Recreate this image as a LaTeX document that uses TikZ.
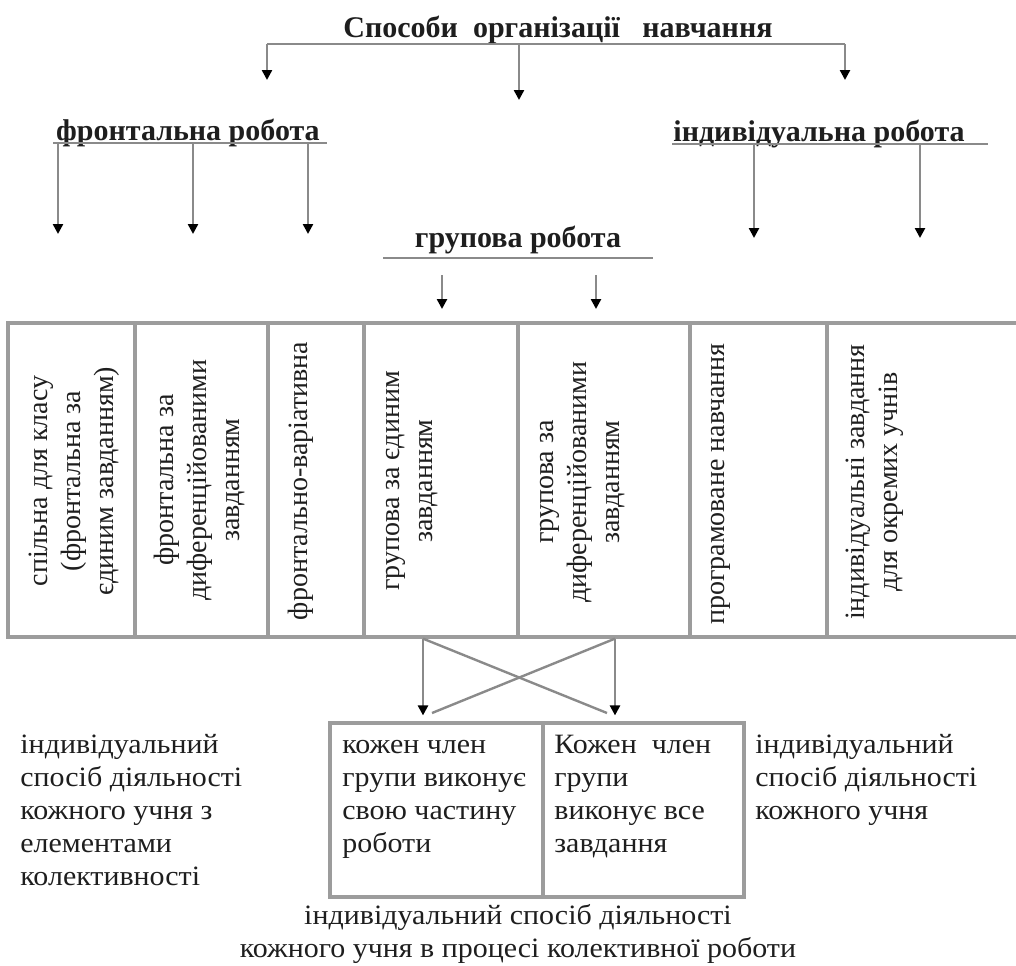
\documentclass[tikz,border=0pt]{standalone}
\usepackage{fontspec}
\setmainfont{Liberation Serif}
\newfontfamily\widefont[FakeStretch=1.07]{Liberation Serif}
\usetikzlibrary{arrows.meta}
\definecolor{linegray}{HTML}{8A8A8A}
\definecolor{tblgray}{HTML}{9C9C9C}
\definecolor{ink}{HTML}{1E1E1E}
\begin{document}
\begin{tikzpicture}[x=0.5pt,y=-0.5pt,
  ln/.style={draw=linegray, line width=1.2pt},
  arr/.style={ln, -{Triangle[length=5pt,width=5pt,color=black]}},
  cell/.style={draw=tblgray, line width=1.6pt, inner sep=0pt},
  hd/.style={font=\fontsize{15}{18}\selectfont\bfseries, inner sep=0pt, text=ink},
  ttl/.style={font=\fontsize{15}{18}\selectfont\bfseries, inner sep=0pt, text=ink},
  txt/.style={font=\widefont\fontsize{14}{16.5}\selectfont, inner sep=0pt, align=left, text=ink},
  vtxt/.style={font=\fontsize{14}{16.5}\selectfont, inner sep=0pt, align=center, rotate=90, text=ink},
]
\useasboundingbox (0,0) rectangle (1016,965);

% title and first level
\node[ttl, anchor=base] (t) at (558,37) {Способи\ \ організації\ \ \ навчання};
\coordinate (hub) at (489,44);
\coordinate (bl) at (267,44);
\coordinate (br) at (845,44);
\coordinate (bm) at (519,44);
\coordinate (el) at (267,80);
\coordinate (em) at (519,100);
\coordinate (er) at (845,80);
\draw[ln] (hub) -- (hub |- t.south);
\draw[ln] (bl) -- (br);
\draw[arr] (bl) -- (el);
\draw[arr] (bm) -- (em);
\draw[arr] (br) -- (er);

% headings
\node[hd, anchor=base] (f) at (188,140) {фронтальна робота};
\node[hd, anchor=base] (i) at (819,141) {індивідуальна робота};
\node[hd, anchor=base] (g) at (518,247) {групова робота};

\coordinate (fu1) at (53,143);  \coordinate (fu2) at (327,143);
\coordinate (iu1) at (672,144); \coordinate (iu2) at (988,144);
\coordinate (gu1) at (383,258); \coordinate (gu2) at (653,258);
\draw[ln] (fu1) -- (fu2);
\draw[ln] (iu1) -- (iu2);
\draw[ln] (gu1) -- (gu2);

\coordinate (fa1) at (58,143);  \coordinate (fe1) at (58,234);
\coordinate (fa2) at (193,143); \coordinate (fe2) at (193,234);
\coordinate (fa3) at (308,143); \coordinate (fe3) at (308,234);
\coordinate (ia1) at (754,144); \coordinate (ie1) at (754,238);
\coordinate (ia2) at (920,144); \coordinate (ie2) at (920,238);
\coordinate (ga1) at (442,275); \coordinate (ge1) at (442,309);
\coordinate (ga2) at (596,275); \coordinate (ge2) at (596,309);
\draw[arr] (fa1) -- (fe1);
\draw[arr] (fa2) -- (fe2);
\draw[arr] (fa3) -- (fe3);
\draw[arr] (ia1) -- (ie1);
\draw[arr] (ia2) -- (ie2);
\draw[arr] (ga1) -- (ge1);
\draw[arr] (ga2) -- (ge2);

% table cells
\node[cell, minimum width=63.5pt, minimum height=157pt] (c1) at (71.5,480) {};
\node[cell, minimum width=66.5pt, minimum height=157pt] (c2) at (201.5,480) {};
\node[cell, minimum width=48pt,   minimum height=157pt] (c3) at (316,480) {};
\node[cell, minimum width=77pt,   minimum height=157pt] (c4) at (441,480) {};
\node[cell, minimum width=86pt,   minimum height=157pt] (c5) at (604,480) {};
\node[cell, minimum width=68.5pt, minimum height=157pt] (c6) at (758.5,480) {};
\node[cell, minimum width=98pt,   minimum height=157pt] (c7) at (925,480) {};

\node[vtxt] (t1) at (74,481) {спільна для класу\\(фронтальна за\\єдиним завданням)};
\node[vtxt] (t2) at (199.5,480) {фронтальна за\\диференційованими\\завданням};
\node[vtxt] (t3) at (301,481) {фронтально-варіативна};
\node[vtxt] (t4) at (412,481) {групова за єдиним\\завданням};
\node[vtxt] (t5) at (583,482) {групова за\\диференційованими\\завданням};
\node[vtxt] (t6) at (721,484) {програмоване навчання};
\node[vtxt] (t7) at (875,482) {індивідуальні завдання\\для окремих учнів};

% bottom box
\node[cell, minimum width=106.5pt, minimum height=87pt] (b1) at (436.5,810) {};
\node[cell, minimum width=100.5pt, minimum height=87pt] (b2) at (643.5,810) {};

\coordinate (xl) at (423,0);
\coordinate (xr) at (615,0);
\coordinate (dl) at (432,713);
\coordinate (dr) at (607,713);
\draw[ln] (c4.south -| xl) -- (dr);
\draw[ln] (c5.south -| xr) -- (dl);
\draw[arr, shorten >=3pt] (c4.south -| xl) -- (b1.north -| xl);
\draw[arr, shorten >=3pt] (c5.south -| xr) -- (b2.north -| xr);

\node[txt, anchor=north west] (bt1) at (342,730) {\strut кожен член\\групи виконує\\свою частину\\роботи};
\node[txt, anchor=north west] (bt2) at (554,730) {\strut Кожен\ \ член\\групи\\виконує все\\завдання};
\node[txt, anchor=north west] (lt) at (20,730) {\strut індивідуальний\\спосіб діяльності\\кожного учня з\\елементами\\колективності};
\node[txt, anchor=north west] (rt) at (755,730) {\strut індивідуальний\\спосіб діяльності\\кожного учня};
\node[txt, align=center, anchor=north] (bt) at (518,901) {\strut індивідуальний спосіб діяльності\\кожного учня в процесі колективної роботи};
\end{tikzpicture}
\end{document}
